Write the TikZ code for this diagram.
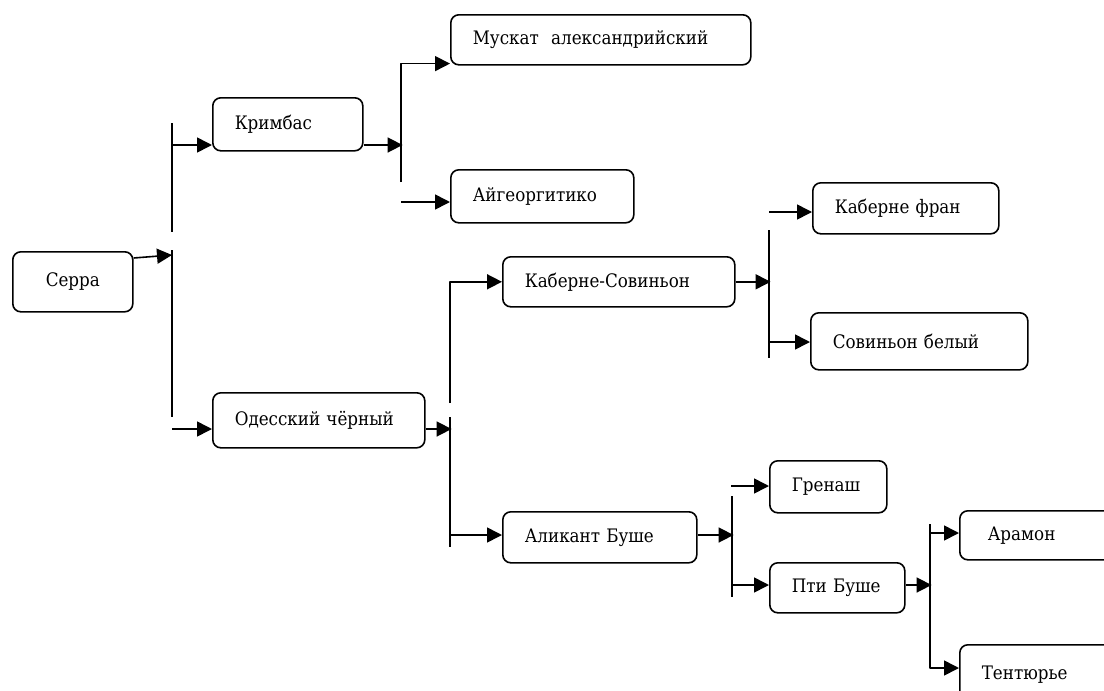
\documentclass[tikz,border=0pt]{standalone}
\usepackage{fontspec}
\setmainfont{DejaVu Serif Condensed}
\usetikzlibrary{arrows.meta}
\tikzset{
	vine/.style={draw, rounded corners=4pt, anchor=north west, inner xsep=11pt, inner ysep=0pt, align=left, font=\fontsize{9.3}{11}\selectfont},
}
\begin{document}
\begin{tikzpicture}[x=0.5pt, y=-0.5pt, line width=0.8pt, line join=round, >={Triangle[length=7.5pt,width=7.5pt]}]
	\clip (0,0) rectangle (1104,691);
	% сорта
	\node[vine, minimum width=60pt, minimum height=30pt, text width=38pt, align=center] (serra) at (12,251) {Серра};
	\node[vine, minimum width=75pt, minimum height=26.5pt, text width=53pt] (krimbas) at (212,97) {Кримбас};
	\node[vine, minimum width=106pt, minimum height=27.5pt, text width=84pt] (odessa) at (212,392) {Одесский~чёрный};
	\node[vine, minimum width=150pt, minimum height=25pt, text width=128pt] (muscat) at (450,14) {Мускат~~александрийский};
	\node[vine, minimum width=91.5pt, minimum height=26.5pt, text width=69.5pt] (aigeo) at (450,169) {Айгеоргитико};
	\node[vine, minimum width=116pt, minimum height=25pt, text width=94pt] (cabsauv) at (502,256) {Каберне-Совиньон};
	\node[vine, minimum width=97pt, minimum height=25.5pt, text width=75pt] (alicant) at (502,511) {Аликант~Буше};
	\node[vine, minimum width=93pt, minimum height=25.5pt, text width=71pt] (cabfranc) at (812,182) {Каберне~фран};
	\node[vine, minimum width=108.5pt, minimum height=28.5pt, text width=86.5pt] (sauvblanc) at (810,312) {Совиньон~белый};
	\node[vine, minimum width=58.5pt, minimum height=26pt, text width=36.5pt] (grenache) at (769,460) {Гренаш};
	\node[vine, minimum width=67.5pt, minimum height=25pt, text width=45.5pt] (petit) at (769,562) {Пти~Буше};
	\node[vine, minimum width=85pt, minimum height=24.5pt, inner xsep=14pt, text width=57pt] (aramon) at (959,510) {Арамон};
	\node[vine, minimum width=85pt, minimum height=30pt, text width=63pt] (tent) at (959,644) {Тентюрье};
	% Серра
	\draw (172,123) -- (172,232) (172,250) -- (172,417);
	\draw[->] ([yshift=-3.5pt]serra.north east) -- (172,255);
	\draw[->] (172,145) coordinate (s1) -- (s1 -| krimbas.west);
	\draw[->] (172,429) coordinate (s2) -- (s2 -| odessa.west);
	% Кримбас
	\draw[->] (s1 -| krimbas.east) -- ++(39,0);
	\draw[->] (401,182) |- ([yshift=1pt]muscat.south west);
	\draw[->] (401,202) coordinate (s3) -- (s3 -| aigeo.west);
	% Одесский чёрный
	\draw[->] (s2 -| odessa.east) -- ++(26,0);
	\draw[->] (450,403) |- (cabsauv.west);
	\draw (450,417) -- (450,547);
	\draw[->] (450,535) coordinate (s4) -- (s4 -| alicant.west);
	% Каберне-Совиньон
	\draw[->] (cabsauv.east) -- ++(35,0);
	\draw (769,230) -- (769,358);
	\draw[->] (769,212) coordinate (s5) -- (s5 -| cabfranc.west);
	\draw[->] (769,342) coordinate (s6) -- (s6 -| sauvblanc.west);
	% Аликант Буше
	\draw[->] (s4 -| alicant.east) -- ++(36,0);
	\draw (732,496) -- (732,597);
	\draw[->] (731,486) coordinate (s7) -- (s7 -| grenache.west);
	\draw[->] (731,585) coordinate (s8) -- (s8 -| petit.west);
	% Пти Буше
	\draw[->] (s8 -| petit.east) -- ++(26,0);
	\draw[->] (930,524) -- (930,668) coordinate (s9) -- (s9 -| tent.west);
	\draw[->] (930,533) coordinate (s10) -- (s10 -| aramon.west);
\end{tikzpicture}
\end{document}
